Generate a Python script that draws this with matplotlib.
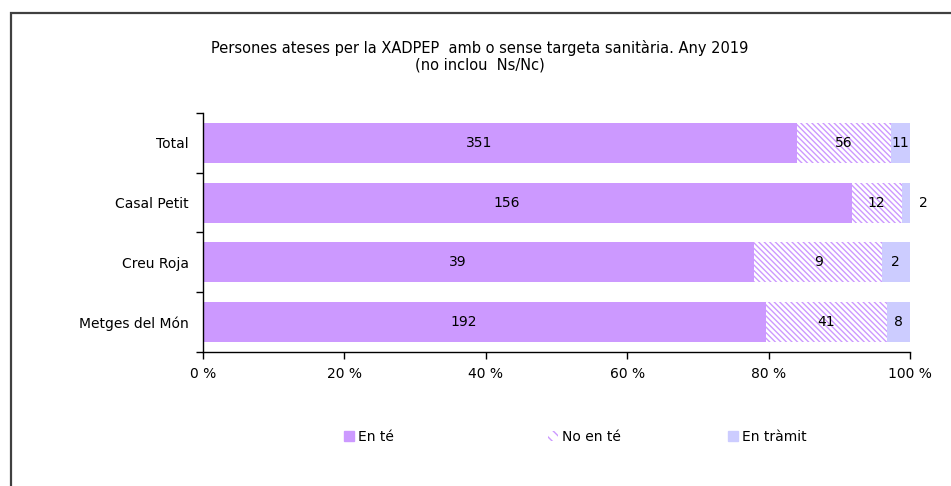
import matplotlib.pyplot as plt
import matplotlib.patches as mpatches
import numpy as np

plt.rcParams['font.family'] = 'DejaVu Sans'
plt.rcParams['hatch.linewidth'] = 1.0

# data
categories = ['Total', 'Casal Petit', 'Creu Roja', 'Metges del Món']
en_te = [351, 156, 39, 192]
no_en_te = [56, 12, 9, 41]
en_tramit = [11, 2, 2, 8]
series_names = ['En té', 'No en té', 'En tràmit']
xtick_labels = ['0 %', '20 %', '40 %', '60 %', '80 %', '100 %']

title = 'Persones ateses per la XADPEP  amb o sense targeta sanitària. Any 2019\n(no inclou  Ns/Nc)'

c_purple = '#CC99FF'
c_lav = '#CCCCFF'
fs = 10

fig = plt.figure(figsize=(9.51, 4.86), dpi=100)
ax = fig.add_axes([203 / 951, 1 - 352 / 486, 707 / 951, 239 / 486])

vals = np.array([en_te, no_en_te, en_tramit], dtype=float)
totals = vals.sum(axis=0)
shares = vals / totals
y = np.arange(len(categories))
h = 0.67

left = np.zeros(len(categories))
styles = [
    dict(color=c_purple, linewidth=0),
    dict(facecolor='white', edgecolor=c_purple, hatch='\\' * 6, linewidth=0),
    dict(color=c_lav, linewidth=0),
]
for i in range(3):
    ax.barh(y, shares[i], left=left, height=h, **styles[i])
    for j in range(len(categories)):
        cx = left[j] + shares[i][j] / 2
        ha = 'center'
        dx = 0
        if i == 0:
            dx = -15  # labels of the first series sit a bit left of centre
        # small last segment of Casal Petit gets its label outside
        if i == 2 and shares[i][j] < 0.02:
            cx = 1.013
            ha = 'left'
        ax.annotate(f'{int(vals[i][j])}', (cx, y[j]), xytext=(dx, 0),
                    textcoords='offset points', ha=ha, va='center', fontsize=fs,
                    annotation_clip=False)
    left += shares[i]

ax.set_xlim(0, 1)
ax.set_ylim(len(categories) - 0.5, -0.5)
ax.set_xticks(np.linspace(0, 1, 6))
ax.set_xticklabels(xtick_labels, fontsize=fs)
ax.set_yticks(y)
ax.set_yticklabels(categories, fontsize=fs)
ax.set_yticks(np.arange(len(categories) + 1) - 0.5, minor=True)
ax.tick_params(axis='y', which='major', length=0, pad=10)
ax.tick_params(axis='y', which='minor', length=5, width=1)
ax.tick_params(axis='x', length=5, width=1, pad=6)
for s in ['top', 'right']:
    ax.spines[s].set_visible(False)
ax.spines['left'].set_linewidth(1)
ax.spines['bottom'].set_linewidth(1)

fig.text(480 / 951, 1 - 56 / 486, title, ha='center', va='center', fontsize=10.5, linespacing=1.1)

# legend entries placed individually
handles = [
    mpatches.Patch(color=c_purple),
    mpatches.Patch(facecolor='white', edgecolor=c_purple, hatch='\\\\\\', linewidth=0),
    mpatches.Patch(color=c_lav),
]
xs = [344, 548, 728]
for hnd, name, xp in zip(handles, series_names, xs):
    fig.legend([hnd], [name], loc='center left', bbox_to_anchor=(xp / 951, 1 - 437 / 486),
               frameon=False, fontsize=fs, handlelength=0.7, handleheight=0.7,
               handletextpad=0.3, borderpad=0, borderaxespad=0)

# outer frame (top and left visible)
fig.add_artist(mpatches.Rectangle((11 / 951, -0.1), 1.2, 1 - 13 / 486 + 0.1,
                                  transform=fig.transFigure, fill=False,
                                  edgecolor='#404040', linewidth=1.6))

fig.savefig('out.png', dpi=100)
